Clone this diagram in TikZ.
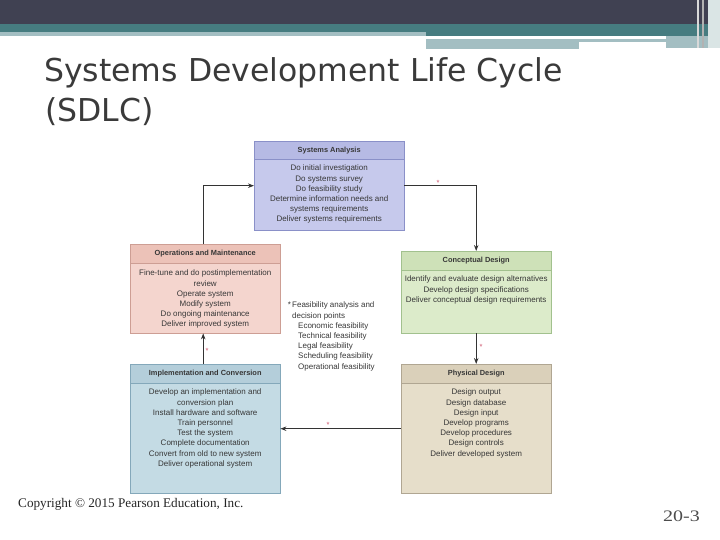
\documentclass[tikz,border=0pt]{standalone}
\usepackage{fontspec}
\setmainfont{Liberation Sans}
\newfontfamily\titlefont{DejaVu Sans}
\newfontfamily\seriffont{Liberation Serif}
\usetikzlibrary{arrows.meta}
\definecolor{topdark}{RGB}{64,65,82}
\definecolor{teal}{RGB}{70,124,128}
\definecolor{lteal}{RGB}{163,190,194}
\definecolor{titlegray}{RGB}{58,58,58}
\definecolor{txt}{RGB}{55,55,55}
\definecolor{aster}{RGB}{205,80,105}
\definecolor{saB}{RGB}{198,201,236}\definecolor{saH}{RGB}{182,186,228}\definecolor{saD}{RGB}{138,144,200}
\definecolor{omB}{RGB}{244,213,206}\definecolor{omH}{RGB}{236,194,184}\definecolor{omD}{RGB}{205,158,148}
\definecolor{cdB}{RGB}{220,235,202}\definecolor{cdH}{RGB}{206,225,184}\definecolor{cdD}{RGB}{162,193,142}
\definecolor{icB}{RGB}{196,219,228}\definecolor{icH}{RGB}{180,206,218}\definecolor{icD}{RGB}{132,168,186}
\definecolor{pdB}{RGB}{230,222,202}\definecolor{pdH}{RGB}{218,208,186}\definecolor{pdD}{RGB}{176,166,146}
\tikzset{
  boxst/.style={anchor=north west, inner sep=0pt, minimum width=150pt},
  hdr/.style={font=\fontsize{7.4}{8}\selectfont\bfseries, text=txt, inner sep=0pt},
  body/.style={font=\fontsize{8}{10.2}\selectfont, text=txt, align=center, inner sep=0pt, anchor=north},
  arr/.style={draw=black!80, line width=0.9pt, -{Stealth[length=6pt,width=4.5pt]}},
  ast/.style={font=\fontsize{7.5}{7.5}\selectfont, text=aster, inner sep=0pt}
}
\begin{document}
\begin{tikzpicture}[x=1pt,y=-1pt]
\useasboundingbox (0,0) rectangle (720,540);
% banner
\fill[topdark] (0,0) rectangle (720,24);
\fill[teal] (0,24) rectangle (720,32);
\fill[lteal] (0,32) rectangle (426,36);
\fill[teal] (426,32) rectangle (720,36);
\fill[lteal] (426,39) rectangle (666,42);
\fill[lteal] (426,42) rectangle (579,49);
\fill[lteal] (666,36) rectangle (720,48);
\fill[white!85!black] (697,0) rectangle (699,48);
\fill[white!70!black] (702,0) rectangle (704,48);
\fill[white!80!teal] (708,0) rectangle (720,48);
% title
\node[anchor=base west, inner sep=0pt, font=\titlefont\fontsize{31.5}{36}\selectfont, text=titlegray] (t1) at (44,82) {Systems Development Life Cycle};
\node[anchor=base west, inner sep=0pt, font=\titlefont\fontsize{31.5}{36}\selectfont, text=titlegray] (t2) at (45,122) {(SDLC)};
% Systems Analysis
\node[boxst, fill=saB, minimum height=89pt] (sa) at (254,141) {};
\fill[saH] (sa.north west) rectangle ([yshift=-18pt]sa.north east);
\draw[saD] ([yshift=-18pt]sa.north west) -- ([yshift=-18pt]sa.north east);
\draw[saD] (sa.north west) rectangle (sa.south east);
\node[hdr] (sah) at ([yshift=-9.5pt]sa.north) {Systems Analysis};
\node[body] (sab) at ([yshift=-24pt]sa.north) {Do initial investigation\\Do systems survey\\Do feasibility study\\Determine information needs and\\systems requirements\\Deliver systems requirements};
% Operations and Maintenance
\node[boxst, fill=omB, minimum height=89pt] (om) at (130,244) {};
\fill[omH] (om.north west) rectangle ([yshift=-19pt]om.north east);
\draw[omD] ([yshift=-19pt]om.north west) -- ([yshift=-19pt]om.north east);
\draw[omD] (om.north west) rectangle (om.south east);
\node[hdr] (omh) at ([yshift=-10pt]om.north) {Operations and Maintenance};
\node[body] (omb) at ([yshift=-26pt]om.north) {Fine-tune and do postimplementation\\review\\Operate system\\Modify system\\Do ongoing maintenance\\Deliver improved system};
% Conceptual Design
\node[boxst, fill=cdB, minimum height=82pt] (cd) at (401,251) {};
\fill[cdH] (cd.north west) rectangle ([yshift=-19pt]cd.north east);
\draw[cdD] ([yshift=-19pt]cd.north west) -- ([yshift=-19pt]cd.north east);
\draw[cdD] (cd.north west) rectangle (cd.south east);
\node[hdr] (cdh) at ([yshift=-10pt]cd.north) {Conceptual Design};
\node[body] (cdb) at ([yshift=-25pt]cd.north) {Identify and evaluate design alternatives\\Develop design specifications\\Deliver conceptual design requirements};
% Implementation and Conversion
\node[boxst, fill=icB, minimum height=129pt] (ic) at (130,364) {};
\fill[icH] (ic.north west) rectangle ([yshift=-19pt]ic.north east);
\draw[icD] ([yshift=-19pt]ic.north west) -- ([yshift=-19pt]ic.north east);
\draw[icD] (ic.north west) rectangle (ic.south east);
\node[hdr] (ich) at ([yshift=-10pt]ic.north) {Implementation and Conversion};
\node[body] (icb) at ([yshift=-25pt]ic.north) {Develop an implementation and\\conversion plan\\Install hardware and software\\Train personnel\\Test the system\\Complete documentation\\Convert from old to new system\\Deliver operational system};
% Physical Design
\node[boxst, fill=pdB, minimum height=129pt] (pd) at (401,364) {};
\fill[pdH] (pd.north west) rectangle ([yshift=-19pt]pd.north east);
\draw[pdD] ([yshift=-19pt]pd.north west) -- ([yshift=-19pt]pd.north east);
\draw[pdD] (pd.north west) rectangle (pd.south east);
\node[hdr] (pdh) at ([yshift=-10pt]pd.north) {Physical Design};
\node[body] (pdb) at ([yshift=-25pt]pd.north) {Design output\\Design database\\Design input\\Develop programs\\Develop procedures\\Design controls\\Deliver developed system};
% connectors
\draw[arr] ([xshift=-2pt]om.north) |- (sa.west);
\draw[arr] (sa.east) -| (cd.north);
\draw[arr] (cd.south) -- (pd.north);
\draw[arr] (pd.west) -- (ic.east);
\draw[arr] ([xshift=-2pt]ic.north) -- ([xshift=-2pt]om.south);
% asterisks
\node[ast] (a1) at (438,183) {*};
\node[ast] (a2) at (481,347) {*};
\node[ast] (a3) at (328,425) {*};
\node[ast] (a4) at (207,351) {*};
% feasibility note
\node[anchor=north west, inner sep=0pt, align=left, text=txt, font=\fontsize{8}{10.2}\selectfont] (note) at (292,302) {\llap{*\,}Feasibility analysis and\\decision points\\\hspace*{6pt}Economic feasibility\\\hspace*{6pt}Technical feasibility\\\hspace*{6pt}Legal feasibility\\\hspace*{6pt}Scheduling feasibility\\\hspace*{6pt}Operational feasibility};
% footer
\node[anchor=base west, inner sep=0pt, font=\seriffont\fontsize{13.2}{15}\selectfont, text=black!85] (copy) at (18,507) {Copyright © 2015 Pearson Education, Inc.};
\node[anchor=base west, inner sep=0pt, font=\seriffont\fontsize{16}{18}\selectfont, text=black!70] (pg) at (663,521) {\scalebox{1.25}[1]{20-3}};
\end{tikzpicture}
\end{document}
